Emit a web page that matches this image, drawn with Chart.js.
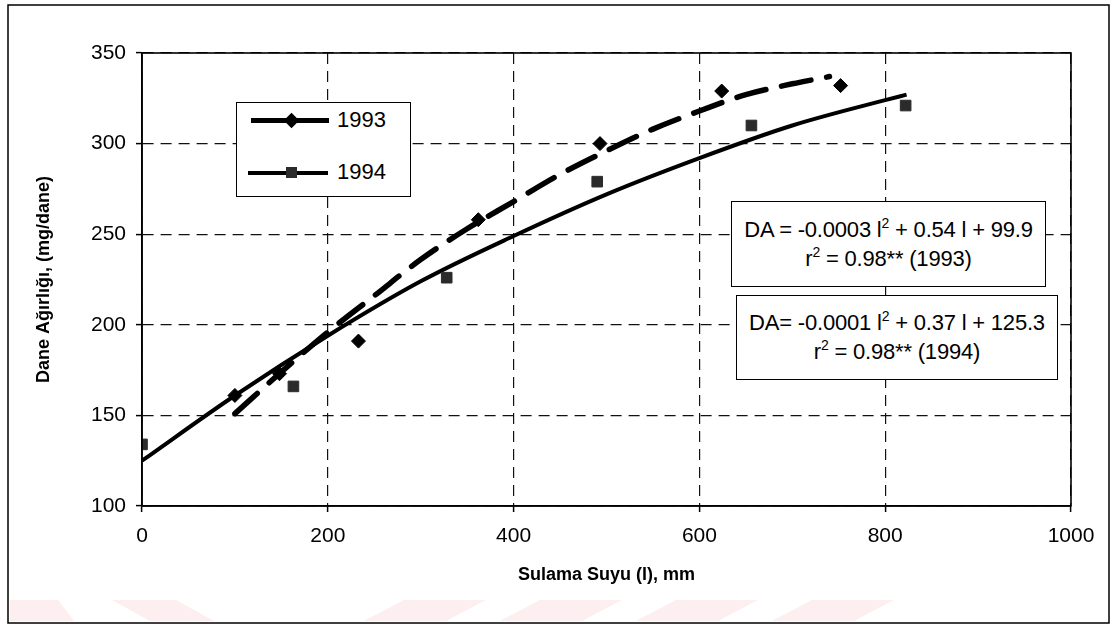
<!doctype html>
<html lang="tr">
  <head>
    <meta charset="utf-8">
    <title>Dane Ağırlığı - Sulama Suyu</title>
    <style>
      * {
        margin: 0;
        padding: 0;
      }
      body {
        background: #fff;
        font-family: "Liberation Sans", Arial, sans-serif;
      }
      .wrap {
        position: relative;
        width: 1112px;
        height: 626px;
      }
      .legendBox {
        position: absolute;
        left: 236px;
        top: 102px;
        width: 173px;
        height: 93px;
        border: 1.5px solid #000;
        background: #fff;
      }
      .legendRow {
        position: absolute;
        left: 0;
        width: 173px;
        height: 30px;
      }
      .legendRow .ln {
        position: absolute;
        left: 14px;
        width: 78px;
        top: 13px;
        border-top: 5px solid #000;
      }
      .legendRow .mk {
        position: absolute;
        left: 49px;
        top: 10px;
        width: 11px;
        height: 11px;
        background: #000;
      }
      .legendRow .txt {
        position: absolute;
        left: 100px;
        top: 3px;
        font-size: 22px;
        line-height: 24px;
      }
      .eqBox {
        position: absolute;
        border: 1.5px solid #000;
        background: #fff;
        text-align: center;
        font-size: 22px;
        line-height: 29px;
        letter-spacing: -0.2px;
        box-sizing: border-box;
      }
      .eqBox sup {
        font-size: 14px;
        line-height: 0;
        vertical-align: 9px;
      }
    </style>
  </head>
  <body>
    <div class="wrap">
      <canvas id="myChart" width="1112" height="626"></canvas>

      <div class="legendBox">
        <div class="legendRow" style="top:2px">
          <div class="ln"></div>
          <div class="mk" style="transform: rotate(45deg)"></div>
          <div class="txt">1993</div>
        </div>
        <div class="legendRow" style="top:54px">
          <div class="ln" style="left:11px; width:80px; border-top-width:4px; top:14px"></div>
          <div class="mk" style="background:#2b2b2b"></div>
          <div class="txt">1994</div>
        </div>
      </div>

      <div class="eqBox" style="left:731px; top:201px; width:315px; height:86px; padding-top:13px">
        DA = -0.0003 l<sup>2</sup> + 0.54 l + 99.9<br>r<sup>2</sup> = 0.98** (1993)
      </div>
      <div class="eqBox" style="left:736px; top:295px; width:322px; height:85px; padding-top:12px">
        DA= -0.0001 l<sup>2</sup> + 0.37 l + 125.3<br>r<sup>2</sup> = 0.98** (1994)
      </div>
    </div>

    <script src="https://cdn.jsdelivr.net/npm/chart.js"></script>
    <script>
const seriesNames = ['1993', '1994'];

const x1993 = [100, 148, 233, 362, 493, 624, 752];
const y1993 = [161, 173, 191, 258, 300, 329, 332];

const x1994 = [0, 163, 328, 490, 656, 822];
const y1994 = [134, 166, 226, 279, 310, 321];

// trend curves
const fitX1993 = [100, 150, 200, 250, 300, 350, 400, 450, 500, 550, 600, 650, 700, 740];
const fitY1993 = [151, 174, 196, 216, 236, 253, 268, 283, 296, 308, 318, 327, 333, 337];

const fitX1994 = [0, 100, 200, 300, 400, 500, 600, 700, 800, 823];
const fitY1994 = [125, 161, 194, 224, 249, 272, 292, 310, 324, 327];

const xTicks = [0, 200, 400, 600, 800, 1000];
const yTicks = [100, 150, 200, 250, 300, 350];

function pairs(xs, ys) {
  return xs.map((x, i) => ({ x: x, y: ys[i] }));
}

// white page, pale watermark at the bottom, outer frame
const pagePlugin = {
  id: 'page',
  beforeDraw(chart) {
    const c = chart.ctx;
    c.save();
    c.fillStyle = '#fff';
    c.fillRect(0, 0, chart.width, chart.height);

    c.fillStyle = '#fdeef0';
    const shapes = [
      [[10, 600], [58, 600], [74, 621], [10, 621]],
      [[112, 600], [176, 600], [214, 621], [150, 621]],
      [[404, 600], [486, 600], [446, 621], [364, 621]],
      [[540, 600], [622, 600], [582, 621], [500, 621]],
      [[676, 600], [758, 600], [718, 621], [636, 621]],
      [[812, 600], [894, 600], [854, 621], [772, 621]]
    ];
    shapes.forEach(s => {
      c.beginPath();
      c.moveTo(s[0][0], s[0][1]);
      for (let i = 1; i < s.length; i++) c.lineTo(s[i][0], s[i][1]);
      c.closePath();
      c.fill();
    });

    c.strokeStyle = '#000';
    c.lineWidth = 1.5;
    c.strokeRect(8, 5, 1101, 618);
    c.restore();
  },
  afterDraw(chart) {
    const a = chart.chartArea;
    const c = chart.ctx;
    c.save();
    c.strokeStyle = '#000';
    c.lineWidth = 1.6;
    c.strokeRect(a.left, a.top, a.right - a.left, a.bottom - a.top);
    c.restore();
  }
};

const data = {
  datasets: [
    {
      label: seriesNames[0],
      data: pairs(x1993, y1993),
      pointStyle: 'rectRot',
      pointRadius: 7,
      backgroundColor: '#000',
      borderColor: '#000',
      borderWidth: 1,
      showLine: false
    },
    {
      label: seriesNames[1],
      data: pairs(x1994, y1994),
      pointStyle: 'rect',
      pointRadius: 7.5,
      backgroundColor: '#2b2b2b',
      borderColor: '#2b2b2b',
      borderWidth: 1,
      showLine: false
    },
    {
      label: seriesNames[0] + ' trend',
      data: pairs(fitX1993, fitY1993),
      showLine: true,
      pointRadius: 0,
      borderColor: '#000',
      borderWidth: 5.5,
      borderDash: [30, 16],
      borderCapStyle: 'round',
      cubicInterpolationMode: 'monotone'
    },
    {
      label: seriesNames[1] + ' trend',
      data: pairs(fitX1994, fitY1994),
      showLine: true,
      pointRadius: 0,
      borderColor: '#000',
      borderWidth: 4,
      cubicInterpolationMode: 'monotone'
    }
  ]
};

const gridStyle = {
  color: '#111',
  lineWidth: 1.2,
  drawTicks: true,
  tickLength: 6,
  tickColor: '#000',
  tickWidth: 1.5,
  tickBorderDash: []
};

const borderStyle = { display: true, color: '#000', width: 1.6, dash: [11, 7] };

const config = {
  type: 'scatter',
  data,
  plugins: [pagePlugin],
  options: {
    responsive: false,
    animation: false,
    events: [],
    layout: {
      padding: { left: 0, right: 41, top: 53, bottom: 0 }
    },
    plugins: {
      legend: { display: false },
      tooltip: { enabled: false }
    },
    scales: {
      x: {
        type: 'linear',
        min: 0,
        max: 1000,
        afterBuildTicks(scale) {
          scale.ticks = xTicks.map(v => ({ value: v }));
        },
        afterFit(scale) {
          scale.height = 120;
        },
        grid: gridStyle,
        border: borderStyle,
        ticks: {
          color: '#000',
          padding: 12,
          callback: v => String(v),
          font: { family: '"Liberation Sans", Arial, sans-serif', size: 21 }
        },
        title: {
          display: true,
          text: 'Sulama Suyu (l), mm',
          color: '#000',
          padding: { top: 0, bottom: 40 },
          font: { family: '"Liberation Sans", Arial, sans-serif', size: 18, weight: 'bold' }
        }
      },
      y: {
        type: 'linear',
        min: 100,
        max: 350,
        afterBuildTicks(scale) {
          scale.ticks = yTicks.map(v => ({ value: v }));
        },
        afterFit(scale) {
          scale.width = 142;
        },
        grid: gridStyle,
        border: borderStyle,
        ticks: {
          color: '#000',
          padding: 10,
          callback: v => String(v),
          font: { family: '"Liberation Sans", Arial, sans-serif', size: 21 }
        },
        title: {
          display: true,
          text: 'Dane Ağırlığı, (mg/dane)',
          color: '#000',
          padding: { top: 33, bottom: 0 },
          font: { family: '"Liberation Sans", Arial, sans-serif', size: 18, weight: 'bold' }
        }
      }
    }
  }
};

const myChart = new Chart(document.getElementById('myChart'), config);
    </script>
  </body>
</html>
